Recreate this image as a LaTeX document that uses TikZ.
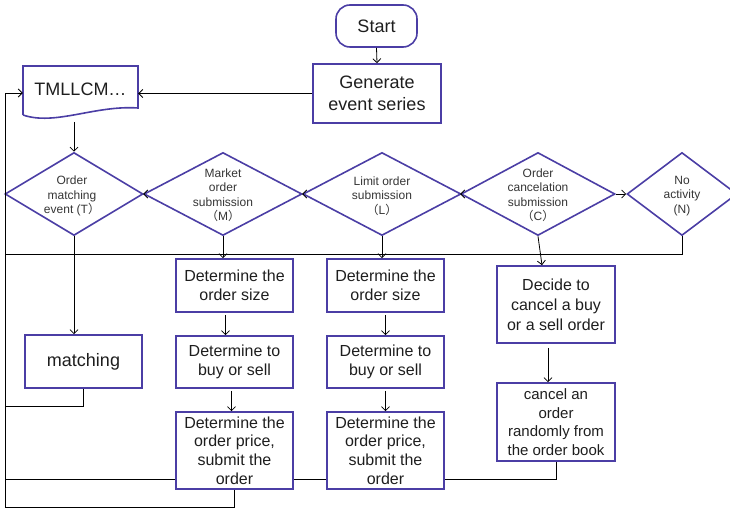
\documentclass[tikz,border=0pt]{standalone}
\usepackage{fontspec}
\setmainfont{Liberation Sans}
\newfontfamily\cjk{Noto Sans CJK SC}
\usetikzlibrary{shapes.geometric,arrows.meta,calc}
\definecolor{bord}{RGB}{75,62,165}
\definecolor{txt}{RGB}{30,30,30}
\begin{document}
\begin{tikzpicture}[x=1pt,y=-1pt,
  box/.style={draw=bord,line width=1.6pt,rectangle,inner sep=0pt,align=center,text=txt},
  big/.style={font=\fontsize{18}{22.5}\selectfont},
  mid/.style={font=\fontsize{16}{19.5}\selectfont},
  dia/.style={draw=bord,line width=1.6pt,diamond,inner sep=0pt,minimum height=83pt},
  dlab/.style={align=center,text=txt!90,font=\fontsize{12}{14.5}\selectfont,inner sep=0pt},
  ln/.style={draw=black,line width=0.8pt},
  arr/.style={ln,-{Straight Barb[length=4pt,width=8pt]}}]
\useasboundingbox (0,0) rectangle (730,510);
\clip (0,0) rectangle (730,510);

% top
\node[box,big,rounded corners=14pt,minimum width=81pt,minimum height=42pt] (start) at (376.5,26) {Start};
\node[box,big,minimum width=128pt,minimum height=59pt] (gen) at (377,93.5) {Generate\\event series};
\node[big,text=txt,minimum width=115pt,inner sep=0pt] (tm) at (80.5,89) {TMLLCM…};
\draw[draw=bord,line width=1.6pt] (23,115) -- (23,66) -- (138,66) -- (138,108)
  .. controls (95,105) and (55,126) .. (23,115);

% diamonds
\node[dia,minimum width=138pt] (T) at (74,194) {};
\node[dlab] (Tt) at (72,196) {Order\\matching\\event (T{\cjk ）}};
\node[dia,minimum width=158pt] (M) at (223,194) {};
\node[dlab] (Mt) at (223,195) {Market\\order\\submission\\{\cjk （}M{\cjk ）}};
\node[dia,minimum width=158pt] (L) at (382,194) {};
\node[dlab] (Lt) at (382,196) {Limit order\\submission\\{\cjk （}L{\cjk ）}};
\node[dia,minimum width=154pt] (C) at (538,194) {};
\node[dlab] (Ct) at (538,195) {Order\\cancelation\\submission\\{\cjk （}C{\cjk ）}};
\node[dia,minimum width=110pt] (N) at (682,194) {};
\node[dlab] (Nt) at (682,196) {No\\activity\\(N)};

% lower boxes
\node[box,big,minimum width=117pt,minimum height=53pt] (match) at (83.5,361.5) {matching};
\node[box,mid,minimum width=117pt,minimum height=53pt] (m1) at (234.5,285.5) {Determine the\\order size};
\node[box,mid,minimum width=117pt,minimum height=52pt] (m2) at (234.5,362) {Determine to\\buy or sell};
\node[box,mid,minimum width=117pt,minimum height=77pt,font=\fontsize{16}{18.7}\selectfont] (m3) at (234.5,450.5) {Determine the\\order price,\\submit the\\order};
\node[box,mid,minimum width=117pt,minimum height=53pt] (l1) at (385.5,285.5) {Determine the\\order size};
\node[box,mid,minimum width=117pt,minimum height=52pt] (l2) at (385.5,362) {Determine to\\buy or sell};
\node[box,mid,minimum width=117pt,minimum height=77pt,font=\fontsize{16}{18.7}\selectfont] (l3) at (385.5,450.5) {Determine the\\order price,\\submit the\\order};
\node[box,font=\fontsize{16}{20}\selectfont,minimum width=118pt,minimum height=77pt] (dec) at (556,304.5) {Decide to\\cancel a buy\\or a sell order};
\node[box,font=\fontsize{15}{18.7}\selectfont,minimum width=118pt,minimum height=78pt] (can) at (556,422) {cancel an\\order\\randomly from\\the order book};

% coordinates of the return lines
\coordinate (lt) at (5,93);
\coordinate (lb) at (5,507);
\coordinate (h1) at (5,254);
\coordinate (h2) at (5,406);
\coordinate (h3) at (5,479);
\coordinate (tmb) at (74,122);

% connectors
\draw[arr] (start.south) -- (gen.north);
\draw[arr] (gen.west) -- (gen.west -| tm.east);
\draw[arr] (tmb) -- (T.north);
\draw[arr] (T.east) -- (M.west);
\draw[arr] (M.east) -- (L.west);
\draw[arr] (L.east) -- (C.west);
\draw[arr] (C.east) -- (N.west);
\draw[ln] (N.south) |- (h1);
\draw[arr] (T.south) -- (T.south |- match.north);
\draw[ln] (match.south) |- (h2);
\draw[arr] (M.south) -- (M.south |- m1.north);
\draw[arr] (L.south) -- (L.south |- l1.north);
\draw[arr] (C.south) -- ([xshift=-14pt]dec.north);
\draw[arr,shorten <=2pt] ([xshift=-9pt]m1.south) -- ([xshift=-9pt]m2.north);
\draw[arr,shorten <=2pt] ([xshift=-3pt]m2.south) -- ([xshift=-3pt]m3.north);
\draw[arr,shorten <=2pt] (l1.south) -- (l2.north);
\draw[arr,shorten <=2pt] (l2.south) -- (l3.north);
\draw[arr,shorten <=4pt] ([xshift=-8pt]dec.south) -- ([xshift=-8pt]can.north);
\draw[ln] (m3.west |- h3) -- (h3);
\draw[ln] (m3.east |- h3) -- (l3.west |- h3);
\draw[ln] (l3.east |- h3) -| (can.south);
\draw[arr] (m3.south) |- (lb) -- (lt) -- (tm.west |- lt);
\end{tikzpicture}
\end{document}
